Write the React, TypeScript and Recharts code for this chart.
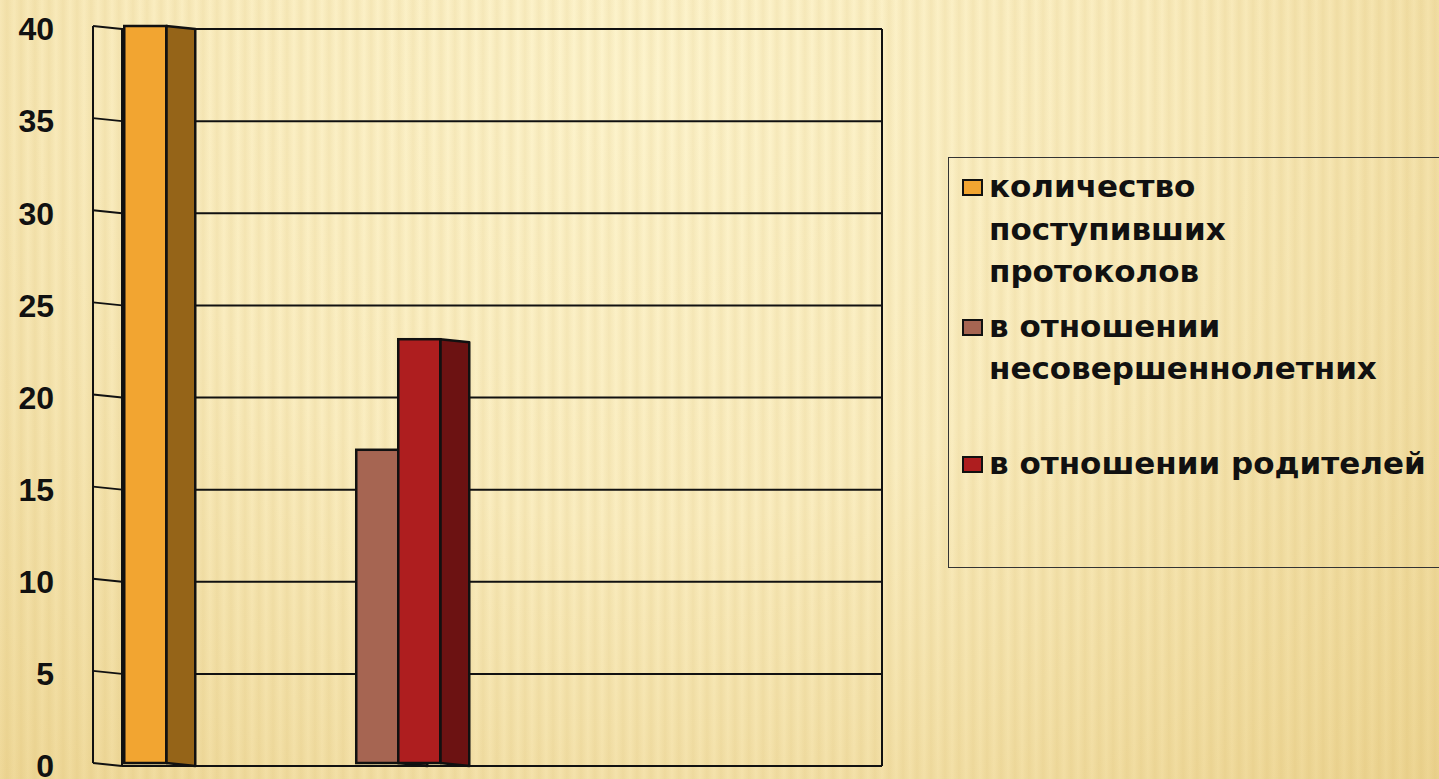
import { BarChart, Bar, XAxis, YAxis, CartesianGrid, Legend, ReferenceArea } from 'recharts';

// categories (axis labels are not visible in the source)
const categories = ['всего', 'по видам', '', ' '];
const protocols = [40, null, null, null];
const minors = [null, 17, null, null];
const parents = [null, 23, null, null];
const yTicks = [0, 5, 10, 15, 20, 25, 30, 35, 40];
const seriesNames = [
  'количество\nпоступивших\nпротоколов',
  'в отношении\nнесовершеннолетних',
  'в отношении родителей',
];
const frontColors = ['#F2A531', '#A66552', '#AE1E1F'];
const sideColors = ['#956418', '#6E3E30', '#6C1212'];

const data = categories.map((c, i) => ({
  name: c,
  protocols: protocols[i],
  minors: minors[i],
  parents: parents[i],
}));

// depth of the pseudo-3d walls / bars
const DX = 29;
const DY = 3;
const LINE = '#111';

function Bar3D(props: any) {
  const { x, y, width, height, front, side, value } = props;
  if (value == null || !height || height <= 0) return null;
  const fx = x - DX;
  const fy = y - DY;
  return (
    <g>
      <polygon
        points={`${fx + width},${fy} ${x + width},${y} ${x + width},${y + height} ${fx + width},${fy + height}`}
        fill={side}
        stroke={LINE}
        strokeWidth={2.5}
        strokeLinejoin="round"
      />
      <rect x={fx} y={fy} width={width} height={height} fill={front} stroke={LINE} strokeWidth={2.5} />
    </g>
  );
}

function Walls(props: any) {
  const { x, y, width, height } = props;
  return (
    <g stroke={LINE} strokeWidth={2} fill="none">
      <line x1={x} y1={y} x2={x} y2={y + height} />
      <line x1={x - DX} y1={y - DY} x2={x - DX} y2={y + height - DY} />
      <line x1={x + width} y1={y} x2={x + width} y2={y + height} />
    </g>
  );
}

function GridLine(props: any) {
  const { x1, y1, x2, y2 } = props;
  return (
    <g stroke={LINE} strokeWidth={2}>
      <line x1={x1} y1={y1} x2={x2} y2={y2} />
      <line x1={x1 - DX} y1={y1 - DY} x2={x1} y2={y1} />
    </g>
  );
}

function LegendBox() {
  const gaps = [7, 12, 52];
  return (
    <div
      style={{
        width: 492,
        height: 411,
        border: '1.5px solid #333',
        boxSizing: 'border-box',
        fontFamily: '"DejaVu Sans", sans-serif',
        fontWeight: 'bold',
        fontSize: 31,
        lineHeight: '42.5px',
        color: '#111',
      }}
    >
      {seriesNames.map((name, i) => (
        <div key={i} style={{ display: 'flex', alignItems: 'flex-start', marginTop: gaps[i] }}>
          <span
            style={{
              display: 'inline-block',
              width: 17,
              height: 13,
              marginLeft: 13,
              marginTop: 14,
              marginRight: 6,
              background: frontColors[i],
              border: '2px solid #111',
              flex: 'none',
            }}
          />
          <span style={{ whiteSpace: 'pre-line' }}>{name}</span>
        </div>
      ))}
    </div>
  );
}

export default function App() {
  return (
    <div
      style={{
        position: 'absolute',
        left: 0,
        top: 0,
        width: 1439,
        height: 779,
        overflow: 'hidden',
        background:
          'repeating-linear-gradient(90deg, rgba(190,150,50,0) 0px, rgba(190,150,50,0.11) 7px, rgba(190,150,50,0) 14px), radial-gradient(ellipse at 45% 10%, #fdf4cd 0%, #faedc0 45%, #edd592 100%)',
      }}
    >
      <BarChart
        width={1439}
        height={779}
        data={data}
        margin={{ top: 29, right: 557, bottom: 13, left: 0 }}
        barCategoryGap="16.45%"
        barGap={0}
      >
        <ReferenceArea y1={0} y2={40} ifOverflow="visible" shape={<Walls />} />
        <CartesianGrid vertical={false} horizontal={(p: any) => <GridLine {...p} />} />
        <XAxis dataKey="name" hide />
        <YAxis
          domain={[0, 40]}
          ticks={yTicks}
          interval={0}
          width={122}
          axisLine={false}
          tickLine={false}
          tickSize={0}
          tickMargin={68}
          tick={{ fill: '#111', fontSize: 32, fontWeight: 'bold', fontFamily: '"Liberation Sans", Arial, sans-serif' }}
        />
        <Legend
          layout="vertical"
          align="center"
          verticalAlign="middle"
          wrapperStyle={{ left: 948, top: 157, width: 492, height: 411 }}
          content={<LegendBox />}
        />
        <Bar
          dataKey="protocols"
          name={seriesNames[0]}
          fill={frontColors[0]}
          isAnimationActive={false}
          shape={(p: any) => <Bar3D {...p} front={frontColors[0]} side={sideColors[0]} />}
        />
        <Bar
          dataKey="minors"
          name={seriesNames[1]}
          fill={frontColors[1]}
          isAnimationActive={false}
          shape={(p: any) => <Bar3D {...p} front={frontColors[1]} side={sideColors[1]} />}
        />
        <Bar
          dataKey="parents"
          name={seriesNames[2]}
          fill={frontColors[2]}
          isAnimationActive={false}
          shape={(p: any) => <Bar3D {...p} front={frontColors[2]} side={sideColors[2]} />}
        />
      </BarChart>
    </div>
  );
}
